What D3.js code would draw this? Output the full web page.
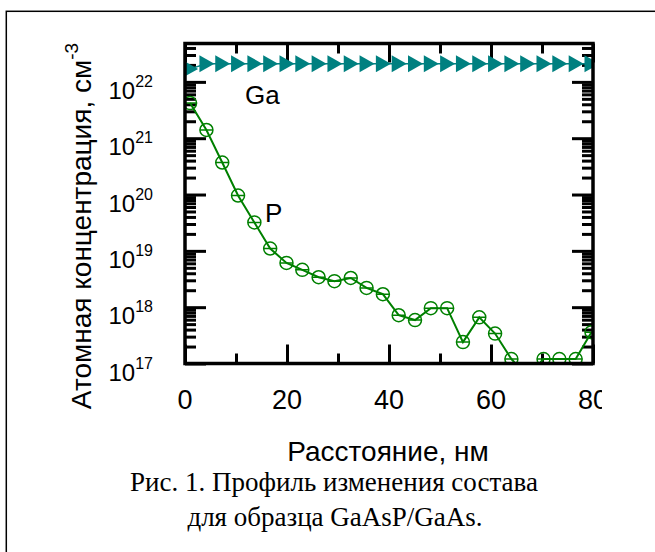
<!DOCTYPE html>
<html>
<head>
<meta charset="utf-8">
<script src="https://cdn.jsdelivr.net/npm/d3@7"></script>
<style>
  body { margin: 0; background: #fff; }
</style>
</head>
<body>
<svg id="chart" width="655" height="552"></svg>
<script>
// depth, nm
const distance = [1.0, 4.2, 7.3, 10.4, 13.6, 16.7, 19.9, 23.0, 26.2, 29.3, 32.5, 35.6, 38.8,
    41.9, 45.1, 48.2, 51.4, 54.5, 57.7, 60.8, 64.0, 67.1, 70.3, 73.4, 76.6, 79.7]
// atomic concentration, cm^-3
const gaConc = [1.7e22, 2.1e22, 2.1e22, 2.1e22, 2.1e22, 2.1e22, 2.1e22, 2.1e22, 2.1e22, 2.1e22,
    2.1e22, 2.1e22, 2.1e22, 2.1e22, 2.1e22, 2.1e22, 2.1e22, 2.1e22, 2.1e22, 2.1e22, 2.1e22,
    2.1e22, 2.1e22, 2.1e22, 2.1e22, 2.1e22]
const pConc = [4.2e21, 1.4e21, 3.7e20, 9.6e19, 3.2e19, 1.1e19, 6.1e18, 4.6e18, 3.4e18, 2.9e18,
    3.3e18, 2.2e18, 1.7e18, 7.2e17, 5.9e17, 9.6e17, 9.6e17, 2.4e17, 6.6e17, 3.4e17, 1.2e17,
    6e16, 1.2e17, 1.2e17, 1.2e17, 3.6e17]
const xMajor = [0, 20, 40, 60, 80]
const xMinor = [10, 30, 50, 70]
const yExp = [17, 18, 19, 20, 21, 22]

const sans = "'Liberation Sans', Arial, sans-serif"
const serif = "'Liberation Serif', 'Times New Roman', serif"

const svg = d3.select("#chart")
const plot = {left: 185, right: 593, top: 43.5, bottom: 363.5}

// outer frame of the figure
svg.append("rect")
    .attr("x", 6.3).attr("y", 11.3)
    .attr("width", 800).attr("height", 800)
    .attr("fill", "none").attr("stroke", "#000").attr("stroke-width", 1.5)

const x = d3.scaleLinear().domain([0, 80]).range([plot.left, plot.right])
const y = d3.scaleLog().domain([1e17, 4.8e22]).range([plot.bottom, plot.top])

const yMajor = yExp.map(e => Math.pow(10, e))
const yMinor = []
yExp.forEach(e => {
    for (let m = 2; m <= 9; m++) {
        const v = m * Math.pow(10, e)
        if (v < y.domain()[1]) yMinor.push(v)
    }
})

const defs = svg.append("defs")
defs.append("clipPath").attr("id", "plotClip")
    .append("rect")
    .attr("x", plot.left).attr("y", plot.top)
    .attr("width", plot.right - plot.left).attr("height", plot.bottom - plot.top)
// the source picture was cut off on the right
defs.append("clipPath").attr("id", "imgClip")
    .append("rect").attr("x", 0).attr("y", 0).attr("width", 602).attr("height", 552)

// ticks (inward, on all four sides)
function ticks(axis, tx, ty) {
    const g = svg.append("g").attr("transform", `translate(${tx},${ty})`).call(axis)
    g.select(".domain").remove()
    g.selectAll(".tick line").attr("stroke", "#000").attr("stroke-width", 3)
    g.selectAll(".tick text").remove()
    return g
}
ticks(d3.axisLeft(y).tickValues(yMajor).tickSize(-21).tickFormat(""), plot.left, 0)
ticks(d3.axisLeft(y).tickValues(yMinor).tickSize(-11).tickFormat(""), plot.left, 0)
ticks(d3.axisRight(y).tickValues(yMajor).tickSize(-21).tickFormat(""), plot.right, 0)
ticks(d3.axisRight(y).tickValues(yMinor).tickSize(-11).tickFormat(""), plot.right, 0)
ticks(d3.axisBottom(x).tickValues(xMajor).tickSize(-19).tickFormat(""), 0, plot.bottom)
ticks(d3.axisBottom(x).tickValues(xMinor).tickSize(-10).tickFormat(""), 0, plot.bottom)
ticks(d3.axisTop(x).tickValues(xMajor).tickSize(-19).tickFormat(""), 0, plot.top)
ticks(d3.axisTop(x).tickValues(xMinor).tickSize(-10).tickFormat(""), 0, plot.top)

// data
const data = svg.append("g").attr("clip-path", "url(#plotClip)")

const gaLine = d3.line().x((d, i) => x(distance[i])).y(d => y(d))
data.append("path")
    .datum(gaConc)
    .attr("d", gaLine)
    .attr("fill", "none").attr("stroke", "#008080").attr("stroke-width", 1.5)
data.selectAll(".ga")
    .data(gaConc)
    .join("path")
    .attr("class", "ga")
    .attr("d", "M-7,-8.5L8,0L-7,8.5Z")
    .attr("transform", (d, i) => `translate(${x(distance[i])},${y(d)})`)
    .attr("fill", "#008080")

const pLine = d3.line().x((d, i) => x(distance[i])).y(d => y(d))
data.append("path")
    .datum(pConc)
    .attr("d", pLine)
    .attr("fill", "none").attr("stroke", "#008000").attr("stroke-width", 2)
const pMarks = data.selectAll(".p")
    .data(pConc)
    .join("g")
    .attr("class", "p")
    .attr("transform", (d, i) => `translate(${x(distance[i])},${y(d)})`)
pMarks.append("circle")
    .attr("r", 6.5)
    .attr("fill", "none").attr("stroke", "#008000").attr("stroke-width", 1.5)
pMarks.append("line")
    .attr("x1", -6.5).attr("x2", 6.5)
    .attr("stroke", "#008000").attr("stroke-width", 1.5)

// plot frame
svg.append("rect")
    .attr("x", plot.left).attr("y", plot.top)
    .attr("width", plot.right - plot.left).attr("height", plot.bottom - plot.top)
    .attr("fill", "none").attr("stroke", "#000").attr("stroke-width", 3.5)

// y tick labels 10^n
svg.append("g")
    .selectAll("text")
    .data(yExp)
    .join("text")
    .attr("x", 153)
    .attr("y", e => y(Math.pow(10, e)) + 17)
    .attr("text-anchor", "end")
    .style("font-family", sans)
    .style("font-size", "24px")
    .each(function (e) {
        const t = d3.select(this)
        t.append("tspan").text("10")
        t.append("tspan").style("font-size", "16px").attr("dy", -12).text(e)
    })

// x tick labels
svg.append("g").attr("clip-path", "url(#imgClip)")
    .selectAll("text")
    .data(xMajor)
    .join("text")
    .attr("x", d => x(d))
    .attr("y", 409)
    .attr("text-anchor", "middle")
    .style("font-family", sans)
    .style("font-size", "27px")
    .text(d => d)

// series labels
svg.append("text").attr("x", 245).attr("y", 104)
    .style("font-family", sans).style("font-size", "26px").text("Ga")
svg.append("text").attr("x", 265).attr("y", 222)
    .style("font-family", sans).style("font-size", "26px").text("P")

// axis titles
svg.append("text")
    .attr("x", 388).attr("y", 461)
    .attr("text-anchor", "middle")
    .style("font-family", sans)
    .style("font-size", "28px")
    .text("Расстояние, нм")

const yTitle = svg.append("text")
    .attr("transform", "translate(91,226) rotate(-90)")
    .attr("text-anchor", "middle")
    .style("font-family", sans)
    .style("font-size", "28px")
yTitle.append("tspan").text("Атомная концентрация, см")
yTitle.append("tspan").style("font-size", "19px").attr("dy", -13).text("-3")

// caption
const cap = svg.append("text")
    .attr("text-anchor", "middle")
    .style("font-family", serif)
    .style("font-size", "27px")
cap.append("tspan").attr("x", 334).attr("y", 491).text("Рис. 1. Профиль изменения состава")
cap.append("tspan").attr("x", 335).attr("y", 526).text("для образца GaAsP/GaAs.")
</script>
</body>
</html>
